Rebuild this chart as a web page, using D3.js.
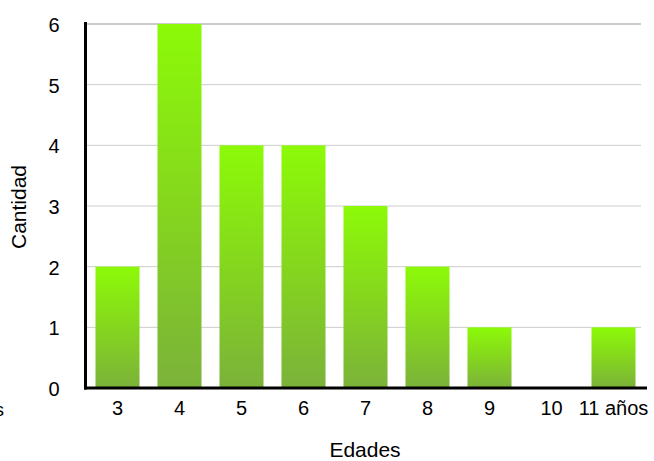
<!DOCTYPE html>
<html><head><meta charset="utf-8">
<script src="https://cdn.jsdelivr.net/npm/d3@7/dist/d3.min.js"></script>
<style>body{margin:0;background:#fff}svg{display:block}text{font-family:"Liberation Sans",Arial,sans-serif;fill:#000}</style>
</head><body><svg id="c" width="654" height="461"></svg>
<script>
const categories = ["3","4","5","6","7","8","9","10","11 años"];
const values = [2,6,4,4,3,2,1,0,1];
const yTicks = [0,1,2,3,4,5,6];
const xTitle = "Edades";
const yTitle = "Cantidad";

const svg = d3.select("#c");
const x = d3.scaleBand().domain(categories).range([86.5, 644.5]).paddingInner(0.29).paddingOuter(0.145);
const y = d3.scaleLinear().domain([0,6]).range([388, 24]);

const defs = svg.append("defs");
const g = defs.append("linearGradient").attr("id","grad").attr("x1",0).attr("y1",0).attr("x2",0).attr("y2",1);
g.append("stop").attr("offset","0%").attr("stop-color","#8cfa08");
g.append("stop").attr("offset","50%").attr("stop-color","#85d61e");
g.append("stop").attr("offset","100%").attr("stop-color","#7bb23a");

// gridlines
svg.append("g").selectAll("line").data(yTicks.filter(d=>d>0)).join("line")
  .attr("x1",86).attr("x2",641).attr("y1",d=>y(d)).attr("y2",d=>y(d))
  .attr("stroke","#cccccc").attr("stroke-width",d=>d===6?2:1);

// bars
svg.append("g").selectAll("rect").data(categories.map((c,i)=>({c,v:values[i]})).filter(d=>d.v>0)).join("rect")
  .attr("x",d=>x(d.c)).attr("width",x.bandwidth())
  .attr("y",d=>y(d.v)).attr("height",d=>y(0)-y(d.v))
  .attr("fill","url(#grad)");

// y axis
const ya = svg.append("g").attr("transform","translate(85.5,0)")
  .call(d3.axisLeft(y).tickValues(yTicks).tickSize(0).tickPadding(26).tickFormat(d3.format("d")));
ya.select(".domain").attr("stroke","#000").attr("stroke-width",3).attr("d","M0,22V389.5");
ya.selectAll("text").attr("font-size",20).attr("font-family","Liberation Sans, Arial, sans-serif").attr("dy","0.38em");

// x axis
const xa = svg.append("g").attr("transform","translate(0,388)")
  .call(d3.axisBottom(x).tickSize(0).tickPadding(13));
xa.select(".domain").attr("stroke","#000").attr("stroke-width",3).attr("d","M84,0H647");
xa.selectAll("text").attr("font-size",20).attr("font-family","Liberation Sans, Arial, sans-serif");

// titles
svg.append("text").attr("x",365).attr("y",457).attr("text-anchor","middle").attr("font-size",21).text(xTitle);
svg.append("text").attr("transform","translate(26,207) rotate(-90)").attr("text-anchor","middle").attr("font-size",21).text(yTitle);
// clipped fragment at left edge
svg.append("text").attr("x",4).attr("y",416).attr("text-anchor","end").attr("font-size",19).text("años");
</script></body></html>
